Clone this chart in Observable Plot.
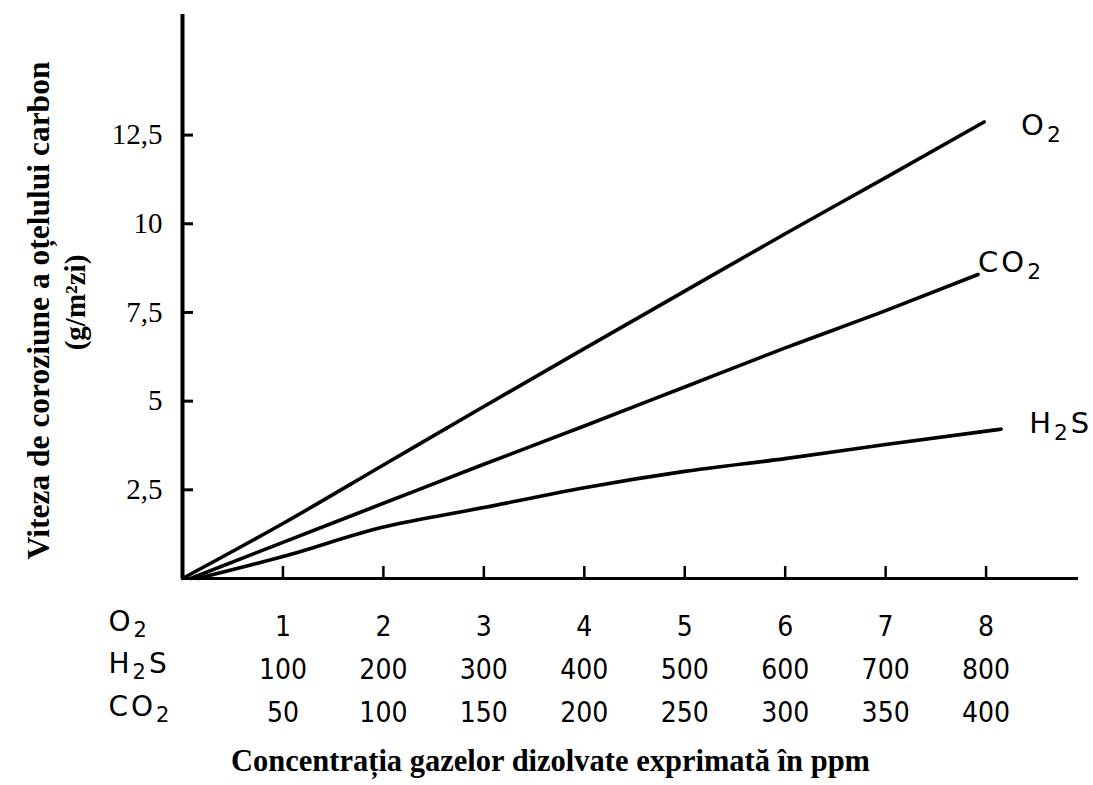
<!DOCTYPE html>
<html>
<head>
<meta charset="utf-8">
<script src="https://cdn.jsdelivr.net/npm/d3@7"></script>
<script src="https://cdn.jsdelivr.net/npm/@observablehq/plot@0.6"></script>
<style>
  html, body { margin: 0; padding: 0; background: #fff; }
  #chart svg { display: block; }
  .gaslabel text { letter-spacing: 3px; }
</style>
</head>
<body>
<div id="chart"></div>
<script>
// ---- data ----
const xTicks = [1, 2, 3, 4, 5, 6, 7, 8];
const o2Labels = ["1", "2", "3", "4", "5", "6", "7", "8"];
const h2sLabels = ["100", "200", "300", "400", "500", "600", "700", "800"];
const co2Labels = ["50", "100", "150", "200", "250", "300", "350", "400"];
const rowNames = ["O₂", "H₂S", "CO₂"];
const yTicks = [2.5, 5, 7.5, 10, 12.5];

const o2Conc = [0, 1, 2, 3, 4, 5, 6, 7, 7.98];
const o2Rate = [0, 1.55, 3.2, 4.85, 6.48, 8.1, 9.72, 11.3, 12.87];
const co2Conc = [0.08, 1, 2, 3, 4, 5, 6, 7, 7.92];
const co2Rate = [0, 1.02, 2.12, 3.22, 4.3, 5.4, 6.5, 7.55, 8.57];
const h2sConc = [0.15, 1, 2, 3, 4, 5, 6, 7, 8.15];
const h2sRate = [0, 0.62, 1.45, 2.0, 2.56, 3.02, 3.38, 3.78, 4.21];

const yTitle = "Viteza de coroziune a oțelului carbon";
const yUnit = "(g/m²zi)";
const xTitle = "Concentrația gazelor dizolvate exprimată în ppm";

// ---- build ----
const toRows = (xs, ys, name) => xs.map((x, i) => ({x, y: ys[i], gas: name}));
const o2 = toRows(o2Conc, o2Rate, "O₂");
const co2 = toRows(co2Conc, co2Rate, "CO₂");
const h2s = toRows(h2sConc, h2sRate, "H₂S");

const serif = "'Liberation Serif', 'DejaVu Serif', serif";
const narrow = "'Liberation Sans Narrow', 'DejaVu Sans Condensed', 'Liberation Sans', sans-serif";
const sans = "'DejaVu Sans', 'Liberation Sans', sans-serif";

const fmtComma = d => String(d).replace(".", ",");
const rowAxis = (labels, pad) => Plot.axisX(xTicks, {
  anchor: "bottom", tickSize: 0, tickPadding: pad,
  tickFormat: d => labels[xTicks.indexOf(d)],
  fontFamily: narrow, fontSize: 28, fill: "black", label: null
});
const rowHeader = (i, dy) => Plot.text([rowNames[i]], {
  frameAnchor: "bottom-left", text: d => d, textAnchor: "start",
  dx: -74, dy, fontFamily: sans, fontSize: 28, fill: "black", className: "gaslabel"
});
const endLabel = (rows, dx, dy) => Plot.text([rows[rows.length - 1]], {
  x: "x", y: "y", text: "gas", dx, dy, textAnchor: "start",
  fontFamily: sans, fontSize: 29, fill: "black", className: "gaslabel"
});

const chart = Plot.plot({
  width: 1093,
  height: 785,
  marginLeft: 182,
  marginRight: 15,
  marginTop: 14,
  marginBottom: 207,
  style: {background: "white", color: "black", overflow: "visible"},
  x: {domain: [0, 8.92]},
  y: {domain: [0, 15.9]},
  marks: [
    // y axis ticks (inward) and labels
    Plot.axisY(yTicks, {anchor: "left", tickSize: -11, strokeWidth: 3, tickFormat: () => "", label: null}),
    Plot.axisY(yTicks, {anchor: "left", tickSize: 0, tickPadding: 20, tickFormat: fmtComma,
      fontFamily: serif, fontSize: 29, fill: "black", label: null}),
    // x axis ticks (inward)
    Plot.axisX(xTicks, {anchor: "bottom", tickSize: -12, strokeWidth: 2.5, tickFormat: () => "", label: null}),
    // three rows of concentration labels
    rowAxis(o2Labels, 38),
    rowAxis(h2sLabels, 81),
    rowAxis(co2Labels, 124),
    // row headers
    rowHeader(0, 52),
    rowHeader(1, 94),
    rowHeader(2, 137),
    // axis lines
    Plot.ruleX([0], {stroke: "black", strokeWidth: 4}),
    Plot.ruleY([0], {stroke: "black", strokeWidth: 3}),
    // curves
    Plot.line(o2, {x: "x", y: "y", stroke: "black", strokeWidth: 3.6, curve: "monotone-x"}),
    Plot.line(co2, {x: "x", y: "y", stroke: "black", strokeWidth: 3.6, curve: "monotone-x"}),
    Plot.line(h2s, {x: "x", y: "y", stroke: "black", strokeWidth: 3.6, curve: "monotone-x"}),
    endLabel(o2, 37, 4),
    endLabel(co2, 0, -12),
    endLabel(h2s, 28, -5),
    // titles
    Plot.text([xTitle], {frameAnchor: "bottom", text: d => d, dx: -80, dy: 192,
      fontFamily: serif, fontSize: 30.5, fontWeight: "bold", fill: "black"}),
    Plot.text([yTitle], {frameAnchor: "left", text: d => d, rotate: -90, textAnchor: "middle",
      dx: -144, dy: 14, fontFamily: serif, fontSize: 31.5, fontWeight: "bold", fill: "black"}),
    Plot.text([yUnit], {frameAnchor: "left", text: d => d, rotate: -90, textAnchor: "middle",
      dx: -107, dy: 6, fontFamily: serif, fontSize: 29, fontWeight: "bold", fill: "black"})
  ]
});

// render the subscript "2" as a lowered, smaller tspan
d3.select(chart).selectAll("text").each(function () {
  const t = this.textContent;
  if (!t.includes("₂") || this.querySelector("tspan")) return;
  const sel = d3.select(this).text(null);
  const parts = t.split("₂");
  parts.forEach((p, i) => {
    if (p) sel.append("tspan").text(p);
    if (i < parts.length - 1) {
      sel.append("tspan").attr("font-size", "75%").attr("baseline-shift", "-30%").text("2");
    }
  });
});

document.getElementById("chart").appendChild(chart);
</script>
</body>
</html>
